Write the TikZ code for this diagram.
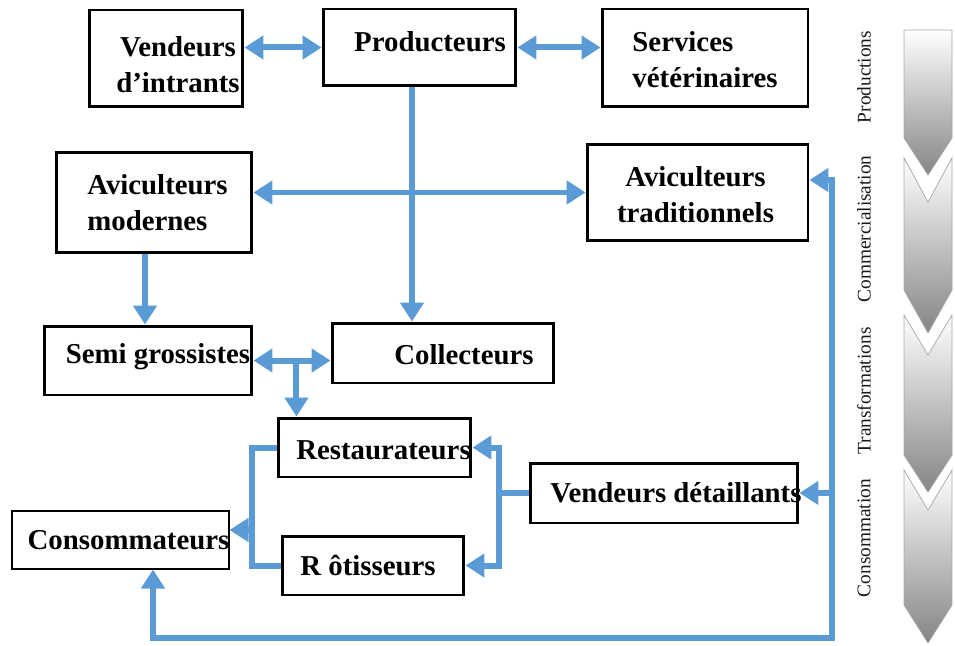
\documentclass[tikz,border=0pt]{standalone}
\usepackage{fontspec}
\setmainfont{Liberation Serif}
\usetikzlibrary{arrows.meta}

\definecolor{flowblue}{HTML}{5B9BD5}
\definecolor{stagegrey}{HTML}{858585}

\begin{document}
\begin{tikzpicture}[x=0.02cm,y=-0.02cm,>={Triangle[length=0.38cm,width=0.46cm]},
	box/.style={draw,line width=1.7pt,inner sep=0pt},
	txt/.style={font=\bfseries\fontsize{16.4}{20.5}\selectfont,align=center},
	flow/.style={draw=flowblue,line width=0.12cm},
	stage/.style={font=\fontsize{11}{13}\selectfont,text=black!90,rotate=90}]
	\useasboundingbox (0,0) rectangle (955,645);

	\node[box,minimum width=3.08cm,minimum height=1.94cm,label={[txt,xshift=0.24cm,yshift=-0.13cm]center:{Vendeurs\\d’intrants}}] (vint) at (166,58.5) {};
	\node[box,minimum width=3.86cm,minimum height=1.54cm,label={[txt,xshift=0.21cm,yshift=0.11cm]center:Producteurs}] (prod) at (419.5,47.5) {};
	\node[box,minimum width=4.12cm,minimum height=1.96cm,label={[txt,align=left,yshift=-0.04cm]center:{Services\\vétérinaires}}] (serv) at (705,58) {};
	\node[box,minimum width=3.92cm,minimum height=2.02cm,label={[txt,align=left,xshift=0.07cm]center:{Aviculteurs\\modernes}}] (avmod) at (154,202.5) {};
	\node[box,minimum width=4.42cm,minimum height=1.94cm,label={[txt,xshift=-0.04cm,yshift=-0.05cm]center:{Aviculteurs\\traditionnels}}] (avtrad) at (697.5,192.5) {};
	\node[box,minimum width=4.16cm,minimum height=1.38cm,label={[txt,xshift=0.2cm,yshift=0.07cm]center:Semi grossistes}] (semi) at (148,360.5) {};
	\node[box,minimum width=4.44cm,minimum height=1.2cm,label={[txt,xshift=0.42cm,yshift=-0.04cm]center:Collecteurs}] (coll) at (443,353) {};
	\node[box,minimum width=3.86cm,minimum height=1.18cm,label={[txt,xshift=0.18cm,yshift=-0.06cm]center:Restaurateurs}] (resto) at (374.5,447.5) {};
	\node[box,minimum width=3.64cm,minimum height=1.18cm,label={[txt,xshift=-0.1cm]center:R ôtisseurs}] (rotis) at (373,565.5) {};
	\node[box,minimum width=5.36cm,minimum height=1.2cm,label={[txt,xshift=0.24cm]center:Vendeurs détaillants}] (vdet) at (664,493) {};
	\node[box,line width=0.6pt,minimum width=4.34cm,minimum height=1.16cm,label={[txt,xshift=0.16cm]center:Consommateurs}] (conso) at (120.5,540) {};

	% stages on the right
	\foreach \ya/\yb/\yc/\yd in {30/30/138/175,158/202/290/333,315/355/455/492,470/510/605/643}
		\shade[top color=white,bottom color=stagegrey,draw=black!35] (904,\ya) -- (928,\yb) -- (952,\ya) -- (952,\yc) -- (928,\yd) -- (904,\yc) -- cycle;
	\node[stage] (st-prod) at (864,77) {Productions};
	\node[stage] (st-comm) at (864,229) {Commercialisation};
	\node[stage] (st-trans) at (864,391) {Transformations};
	\node[stage] (st-cons) at (864,538) {Consommation};

	\coordinate (tee) at ([xshift=0.86cm]semi.east);
	\coordinate (lbus) at ([xshift=-0.5cm]resto.west);
	\coordinate (rbus) at ([xshift=-0.6cm]vdet.west);
	\coordinate (loop) at (832,638);

	\draw[flow,<->] (vint.east |- prod.west) -- (prod.west);
	\draw[flow,<->] (prod.east) -- (serv.west |- prod.east);
	\draw[flow,->] ([xshift=-0.15cm]prod.south) -- ([xshift=-0.15cm]prod.south |- coll.north);
	\draw[flow,<->] (avmod.east |- avtrad.west) -- (avtrad.west);
	\draw[flow,->] ([xshift=-0.18cm]avmod.south) -- ([xshift=-0.18cm]avmod.south |- semi.north);
	\draw[flow,<->] (semi.east) -- (coll.west |- semi.east);
	\draw[flow,->] (tee) -- (tee |- resto.north);
	\draw[flow] (resto.west) -- (lbus) |- (rotis.west);
	\draw[flow,->] ([yshift=0.2cm]lbus |- conso.east) -- ([yshift=0.2cm]conso.east);
	\draw[flow] (vdet.west) -- (rbus);
	\draw[flow,->] (rbus) |- (resto.east);
	\draw[flow,->] (rbus) |- (rotis.east);
	\draw[flow,<->] ([yshift=0.25cm]avtrad.east) -| (loop) -| ([xshift=0.65cm]conso.south);
	\draw[flow,->] (loop |- vdet.east) -- (vdet.east);
\end{tikzpicture}
\end{document}
